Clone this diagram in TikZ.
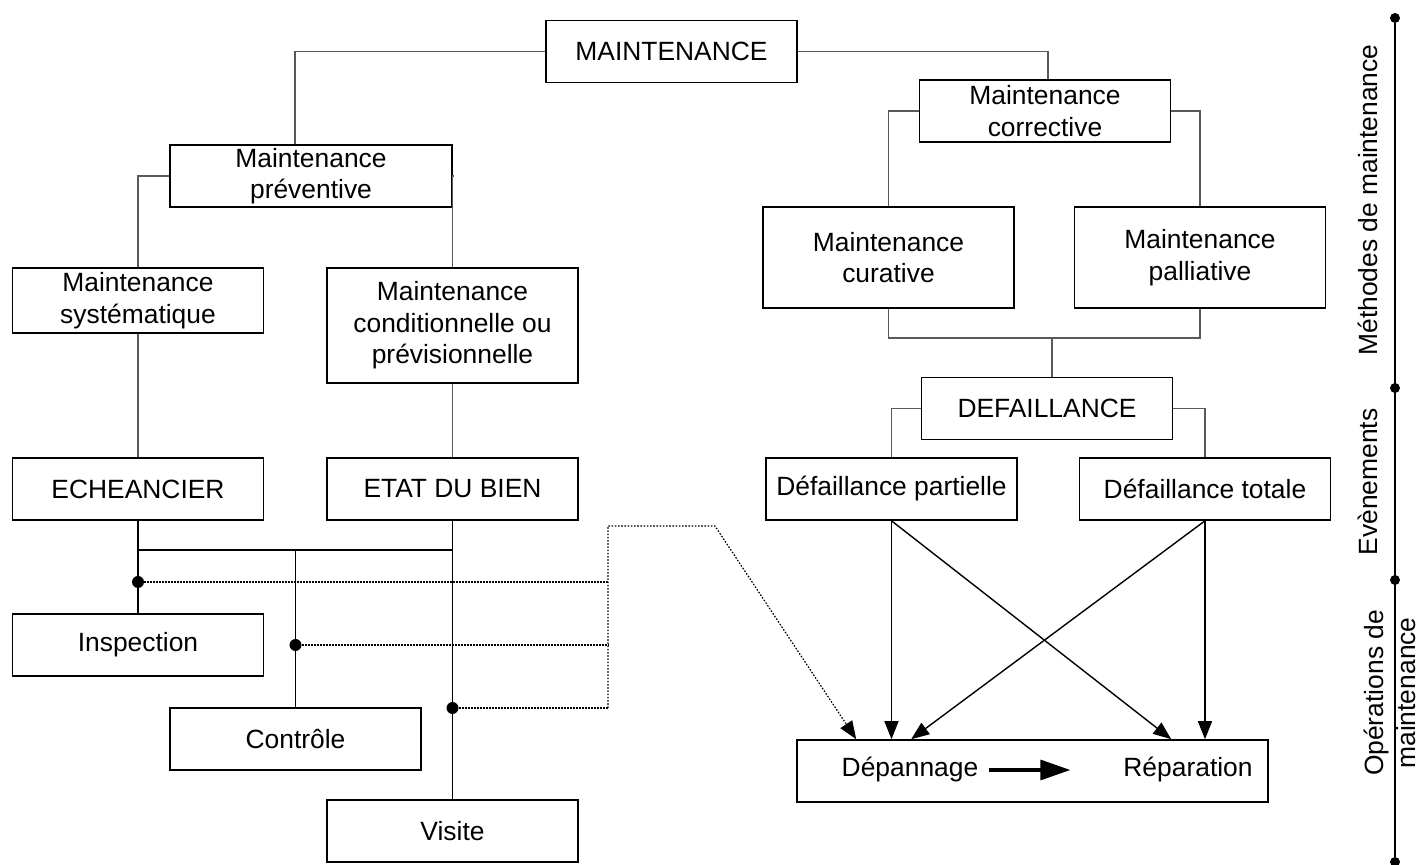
\documentclass[tikz,border=0pt]{standalone}
\usepackage{fontspec}
\setmainfont{Liberation Sans}
\usetikzlibrary{arrows.meta,calc}

\begin{document}
\begin{tikzpicture}[x=0.5pt,y=-0.5pt]
        \tikzstyle{every node}=[font=\fontsize{13.2}{15.7}\selectfont]
        \tikzstyle{box}=[draw,line width=0.8pt,minimum width=125.5pt,minimum height=31pt,align=center,inner sep=1pt]
        \tikzstyle{tree}=[draw=black!65,line width=0.6pt]
        \tikzstyle{link}=[line width=0.9pt]
        \tikzstyle{dot}=[circle,fill,inner sep=0pt,minimum size=6pt]
        \tikzstyle{tip}=[-{Triangle[length=9pt,width=7pt]},line width=0.7pt]
        \tikzstyle{hint}=[dash pattern=on 0.9pt off 0.6pt,line width=1pt]
        \useasboundingbox (0,0) rectangle (1420,865);

        %%% Methodes
        \node[box] (maint) at (671.5,51.5) {MAINTENANCE};
        \node[box] (corr) at (1045,111) {Maintenance\\corrective};
        \node[box,minimum width=141pt] (prev) at (311,176) {Maintenance\\préventive};
        \node[box,minimum height=32.5pt] (syst) at (138,300.5) {Maintenance\\systématique};
        \node[box,minimum height=57.5pt] (cond) at (452.5,325.5) {Maintenance\\conditionnelle ou\\prévisionnelle};
        \node[box,minimum height=50.5pt] (cur) at (888.5,257.5) {Maintenance\\curative};
        \node[box,minimum height=50.5pt] (pal) at (1200,257.5) {Maintenance\\palliative};

        \draw[tree] (maint.west) -| ([xshift=-8pt]prev.north);
        \draw[tree] (maint.east) -| ([xshift=1.5pt]corr.north);
        \draw[tree] (corr.west) -| (cur.north);
        \draw[tree] (corr.east) -| (pal.north);
        \draw[tree] (prev.west) -| (syst.north);
        \draw[tree] (prev.east) -| (cond.north);

        %%% Evenements
        \node[box] (def) at (1047,408.5) {DEFAILLANCE};
        \node[box] (part) at (891.5,489) {Défaillance partielle};
        \node[box] (tot) at (1205,489) {Défaillance totale};
        \node[box] (ech) at (138,489) {ECHEANCIER};
        \node[box] (etat) at (452.5,489) {ETAT DU BIEN};

        \coordinate (fork) at (1052,338);
        \draw[tree] (cur.south) |- (fork) -| (pal.south);
        \draw[tree] (fork) -- (fork |- def.north);
        \draw[tree] (def.west) -| (part.north);
        \draw[tree] (def.east) -| (tot.north);
        \draw[tree] (syst.south) -- (ech.north);
        \draw[tree] (cond.south) -- (etat.north);

        %%% Operations
        \node[box] (insp) at (138,645) {Inspection};
        \node[box] (ctrl) at (295.5,739) {Contrôle};
        \node[box] (vis) at (452.5,831) {Visite};
        \node[box,minimum width=235.5pt] (op) at (1032.5,771) {};
        \node (dep) at (910,770) {Dépannage};
        \node (rep) at (1188,770) {Réparation};

        \coordinate (bus) at (295.5,550);
        \draw[link] (ech.south) -- (insp.north);
        \draw[link] (etat.south) -- (vis.north);
        \draw[link] (ech.south |- bus) -- (etat.south |- bus);
        \draw[link] (bus) -- (ctrl.north);

        \node[dot] (d1) at (138,582) {};
        \node[dot] (d2) at (295.5,645) {};
        \node[dot] (d3) at (452.5,708) {};
        \coordinate (bend1) at (608,526);
        \coordinate (bend2) at (715,526);
        \draw[hint] (d1) -- (d1 -| bend1);
        \draw[hint] (d2) -- (d2 -| bend1);
        \draw[hint] (d3) -- (d3 -| bend1);
        \draw[dash pattern=on 0.8pt off 0.8pt,line width=0.6pt,-{Triangle[length=9pt,width=7pt]}] (d3 -| bend1) -- (bend1) -- (bend2) -- ($(op.north west)+(60,0)$);

        \draw[tip] (part.south) -- (part.south |- op.north);
        \draw[tip] (part.south) -- ($(op.north west)+(375,0)$);
        \draw[tip] (tot.south) -- (tot.south |- op.north);
        \draw[tip] (tot.south) -- ($(op.north west)+(115,0)$);
        \draw[-{Triangle[length=15pt,width=10pt]},line width=1.6pt,shorten <=2pt,shorten >=23pt] (dep) -- (rep);

        %%% Regle
        \node[dot,minimum size=5pt] (r0) at (1395,18) {};
        \node[dot,minimum size=5pt] (r1) at (1395,388) {};
        \node[dot,minimum size=5pt] (r2) at (1395,580) {};
        \node[dot,minimum size=5pt] (r3) at (1395,862) {};
        \draw[line width=0.9pt] (r0) -- (r3);
        \node[rotate=90] (lmeth) at (1368,200) {Méthodes de maintenance};
        \node[rotate=90] (levt) at (1368,482) {Evènements};
        \node[rotate=90,align=center] (lops) at (1390,693) {Opérations de\\maintenance};
\end{tikzpicture}
\end{document}
